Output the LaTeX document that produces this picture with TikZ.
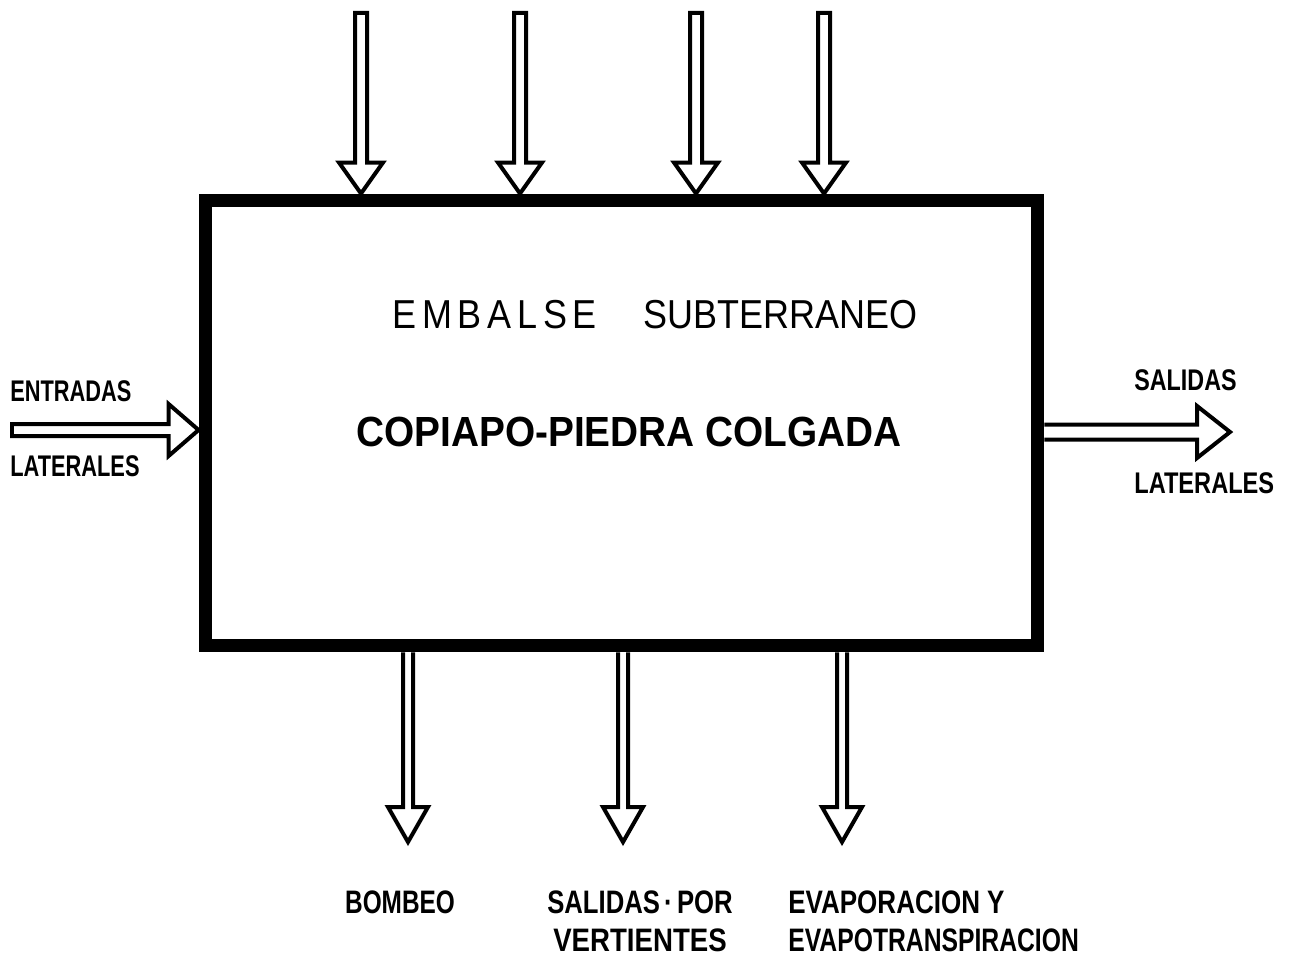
\documentclass[tikz,border=0pt]{standalone}
\usepackage{fontspec}
\setmainfont{Liberation Sans}
\usepackage{graphicx}
\usetikzlibrary{calc}
\newcommand{\cond}[2][0.78]{\scalebox{#1}[1]{#2}}
\tikzset{
  blockarrow/.style args={#1/#2/#3}{draw, line width=0.08cm, line join=miter,
    to path={($(\tikztostart)!#1!90:(\tikztotarget)$)
      -- ($(\tikztotarget)!#3!(\tikztostart)!#1!90:(\tikztotarget)$)
      -- ($(\tikztotarget)!#3!(\tikztostart)!#2!90:(\tikztotarget)$)
      -- (\tikztotarget)
      -- ($(\tikztotarget)!#3!(\tikztostart)!#2!-90:(\tikztotarget)$)
      -- ($(\tikztotarget)!#3!(\tikztostart)!#1!-90:(\tikztotarget)$)
      -- ($(\tikztostart)!#1!-90:(\tikztotarget)$)}},
  lbl/.style={font=\bfseries\fontsize{17}{20}\selectfont, inner sep=0pt},
  lblb/.style={font=\bfseries\fontsize{18.5}{22}\selectfont, inner sep=0pt}
}
\begin{document}
\begin{tikzpicture}[x=0.02cm, y=-0.02cm]
  \useasboundingbox (0,0) rectangle (1293,956);
  \node[draw, line width=0.26cm, minimum width=16.66cm, minimum height=8.92cm] (box) at (621.5,423) {};

  \node[font=\fontsize{23}{27}\selectfont, inner sep=0pt] (title) at (655,315)
    {\cond[0.89]{{\addfontfeature{LetterSpace=16}EMBALSE}\hspace{1.3em}SUBTERRANEO}};
  \node[font=\bfseries\fontsize{24}{28}\selectfont, inner sep=0pt] (name) at (629,432)
    {\cond[0.92]{COPIAPO-PIEDRA COLGADA}};

  \foreach \i/\x in {1/361,2/520,3/696,4/824} {
    \coordinate (t\i) at (\x,13);
    \coordinate (e\i) at (box.north -| t\i);
    \draw[blockarrow=0.12cm/0.44cm/0.62cm] (t\i) to (e\i) -- cycle;
  }

  \coordinate (inl) at (12,430);
  \coordinate (inle) at (box.west |- inl);
  \draw[blockarrow=0.12cm/0.52cm/0.6cm] (inl) to (inle) -- cycle;

  \coordinate (outr) at (1230,432);
  \coordinate (outrs) at (box.east |- outr);
  \draw[blockarrow=0.15cm/0.52cm/0.66cm] (outrs) to (outr);

  \foreach \i/\x in {1/408,2/623,3/842} {
    \coordinate (b\i) at (\x,842);
    \coordinate (s\i) at (box.south -| b\i);
    \draw[blockarrow=0.1cm/0.4cm/0.7cm] (s\i) to (b\i);
  }

  \node[lbl, anchor=west] (entr) at (10,391) {\cond[0.73]{ENTRADAS}};
  \node[lbl, anchor=west] (latl) at (10,466) {\cond[0.73]{LATERALES}};
  \node[lbl, anchor=west] (sal) at (1134,380) {\cond[0.78]{SALIDAS}};
  \node[lbl, anchor=west] (latr) at (1134,483) {\cond[0.79]{LATERALES}};
  \node[lblb] (bomb) at (400,902) {\cond[0.75]{BOMBEO}};
  \node[lblb] (vert1) at (640,902) {\cond[0.79]{SALIDAS\,·\,POR}};
  \node[lblb] (vert2) at (640,940) {\cond[0.85]{VERTIENTES}};
  \node[lblb, anchor=west] (evap1) at (788,902) {\cond[0.8]{EVAPORACION Y}};
  \node[lblb, anchor=west] (evap2) at (788,940) {\cond[0.76]{EVAPOTRANSPIRACION}};
\end{tikzpicture}
\end{document}
